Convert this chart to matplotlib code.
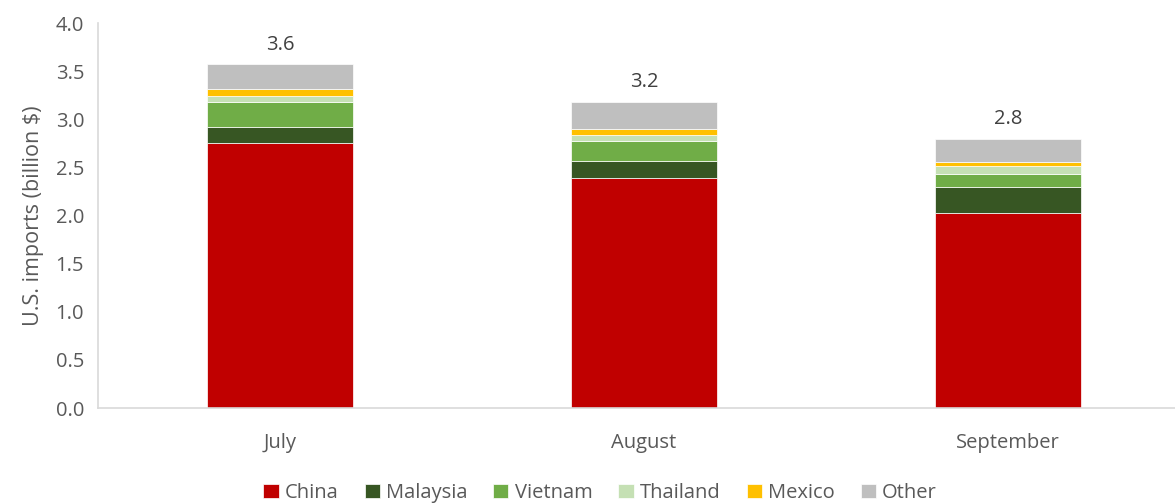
import matplotlib.pyplot as plt
import numpy as np

months = ['July', 'August', 'September']
china = [2.75, 2.39, 2.03]
malaysia = [0.17, 0.18, 0.27]
vietnam = [0.26, 0.20, 0.13]
thailand = [0.06, 0.07, 0.08]
mexico = [0.07, 0.06, 0.05]
other = [0.26, 0.28, 0.24]
totals = [3.6, 3.2, 2.8]

series = [('China', china, '#c00000'),
          ('Malaysia', malaysia, '#375623'),
          ('Vietnam', vietnam, '#70ad47'),
          ('Thailand', thailand, '#c5e0b4'),
          ('Mexico', mexico, '#ffc000'),
          ('Other', other, '#bfbfbf')]

plt.rcParams['font.family'] = ['Open Sans', 'DejaVu Sans']
txt = '#595959'

fig = plt.figure(figsize=(11.75, 5.04), dpi=100)
ax = fig.add_axes([98/1175, 96/504, 1092/1175, 385/504])

x = np.arange(len(months))
bottom = np.zeros(len(months))
for name, vals, col in series:
    ax.bar(x, vals, 0.4, bottom=bottom, color=col, label=name,
           edgecolor='white', linewidth=0.5)
    bottom += np.array(vals)

for i, t in enumerate(totals):
    ax.text(x[i], bottom[i] + 0.1, f'{t:.1f}', ha='center', va='bottom',
            fontsize=14.5, color='#404040')

ax.set_xlim(-0.5, 2.5)
ax.set_ylim(0, 4.0)
ax.set_yticks(np.arange(0, 4.01, 0.5))
ax.set_yticklabels([f'{v:.1f}' for v in np.arange(0, 4.01, 0.5)])
ax.set_xticks(x)
ax.set_xticklabels(months)
ax.tick_params(length=0, labelsize=14.5, colors=txt)
ax.tick_params(axis='x', pad=18)
ax.tick_params(axis='y', pad=10)
ax.set_ylabel('U.S. imports (billion $)', fontsize=15.5, color=txt, labelpad=8)
for s in ['top', 'right']:
    ax.spines[s].set_visible(False)
for s in ['left', 'bottom']:
    ax.spines[s].set_color('#d9d9d9')
    ax.spines[s].set_linewidth(1.2)

fig.legend(loc='center', bbox_to_anchor=(600/1175, 11/504), ncol=6,
           frameon=False, fontsize=14.5, handlelength=0.75, handleheight=0.75,
           handletextpad=0.3, columnspacing=1.3, labelcolor=txt)

fig.savefig('out.png', dpi=100)
